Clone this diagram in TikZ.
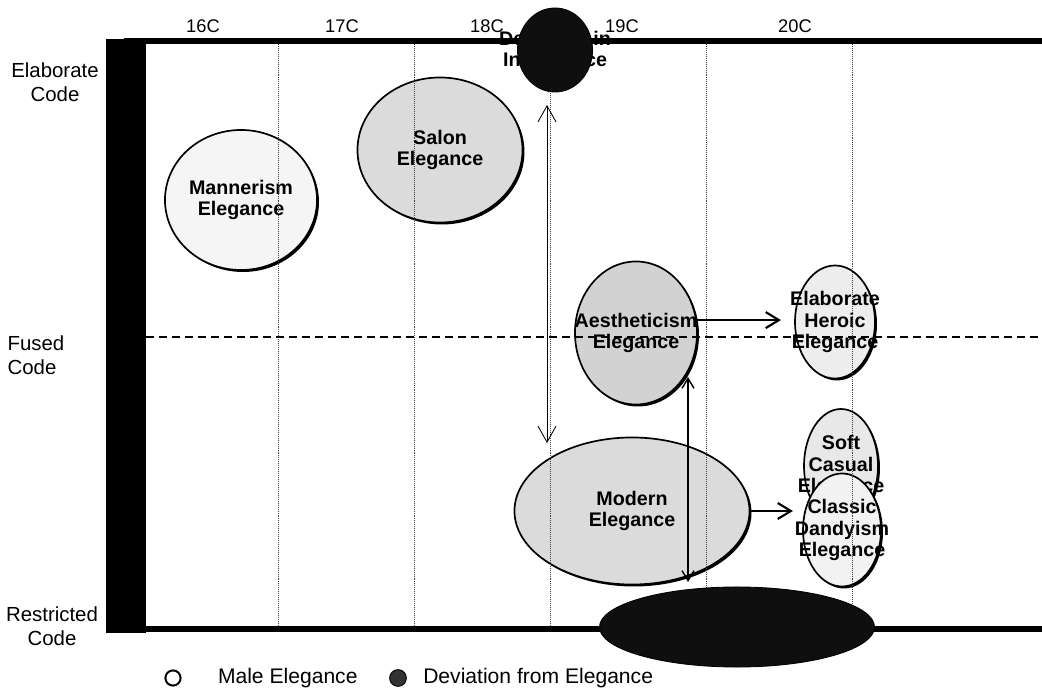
\documentclass[tikz,border=0pt]{standalone}
\usepackage{fontspec}
\setmainfont{Liberation Sans}
\usetikzlibrary{shapes.geometric, arrows.meta, shadows, positioning}

\begin{document}
\begin{tikzpicture}[
            x = 0.025cm, y = -0.025cm, % one unit is one pixel of the scan
            > = {Straight Barb[length=4mm, width=4.5mm]}, % arrow head style
            semithick, % line style
            elegance/.style = {ellipse, draw=black, line width=1.2pt, inner sep=0pt,
                drop shadow={shadow xshift=1.4pt, shadow yshift=-1.4pt, fill=black, opacity=1},
                label={[eltext]center:#1}},
            eltext/.style = {align=center, font=\bfseries\fontsize{14}{15.5}\selectfont},
            deviation/.style = {ellipse, draw=black, fill=black!94, inner sep=0pt},
            century/.style = {font=\fontsize{13}{15}\selectfont},
            codelabel/.style = {align=center, font=\fontsize{14.5}{17}\selectfont},
            legendtext/.style = {inner sep=0pt, font=\fontsize{15}{17}\selectfont},
            gridline/.style = {densely dotted, thin, black!75},
            bigarrow/.style = {->, line width=1.5pt, > = {Straight Barb[length=3.3mm, width=4mm]}}
        ]
\useasboundingbox (0,0) rectangle (1042,695);

% male elegance
\node[elegance={Mannerism\\Elegance}, fill=gray!8, minimum width=3.8cm, minimum height=3.5cm] (mann) at (241,200) {};
\node[elegance={Salon\\Elegance}, fill=gray!28, minimum width=4.125cm, minimum height=3.625cm] (salon) at (440,150) {};
\node[elegance={Aestheticism\\Elegance}, fill=gray!35, minimum width=3.05cm, minimum height=3.575cm] (aes) at (636,333) {};
\node[elegance={Elaborate\\Heroic\\Elegance}, fill=gray!14, minimum width=2cm, minimum height=2.825cm] (heroic) at (835,322) {};
\node[elegance={Modern\\Elegance}, fill=gray!28, minimum width=5.875cm, minimum height=3.675cm] (modern) at (632,511) {};
\node[elegance={Soft\\Casual\\Elegance}, fill=gray!18, minimum width=1.85cm, minimum height=2.85cm] (soft) at (841,466) {};
\node[elegance={Classic\\Dandyism\\Elegance}, fill=gray!10, minimum width=1.95cm, minimum height=2.825cm] (classic) at (842,530) {};

% centuries and code levels
\draw[gridline] (278,44) -- (278,627);
\draw[gridline] (414,44) -- (414,627);
\draw[gridline] (550,44) -- (550,627);
\draw[gridline] (706,44) -- (706,627);
\draw[gridline] (852,44) -- (852,627);
\draw[dash pattern=on 0.2cm off 0.125cm, line width=0.9pt] (146,337) -- (1042,337);

\fill (106,39) rectangle (146,633);
\draw[line width=4.2pt] (124,41) -- (1042,41);
\draw[line width=3.6pt] (146,629) -- (1042,629);

% deviation
\node[eltext] (toptext) at (555,51) {Deviation in\\Indulgence};
\node[deviation, minimum width=1.875cm, minimum height=2.1cm] (topdev) at (555,50) {};
\node[deviation, minimum width=6.875cm, minimum height=2cm] (basedev) at (737,627) {};

\coordinate (devtip) at (547,105);
\coordinate (modtip) at (547,443);
\coordinate (aestip) at (688,377);
\coordinate (basetip) at (688,582);

\path [<->] (devtip) edge[line width=0.6pt] (modtip);
\path [<->] (basetip) edge[line width=1pt, > = {Straight Barb[length=2.5mm, width=3mm]}] (aestip);
\draw[bigarrow, shorten > = 0.33cm] (aes.12) -- (aes.12 -| heroic.west);
\draw[bigarrow, shorten > = 0.23cm] (modern.east) -- (modern.east -| classic.west);

% axes
\node[century] (c16) at (203,26) {16C};
\node[century] (c17) at (342,26) {17C};
\node[century] (c18) at (487,26) {18C};
\node[century] (c19) at (622,26) {19C};
\node[century] (c20) at (795,26) {20C};

\node[codelabel] (elab) at (55,82) {Elaborate\\Code};
\node[codelabel, align=left] (fused) at (36,355) {Fused\\Code};
\node[codelabel] (restr) at (52,626) {Restricted\\Code};

% legend
\node[circle, draw, line width=1.4pt, minimum size=0.38cm, inner sep=0pt] (lmale) at (173,678) {};
\node[legendtext, right=0.9cm of lmale] (tmale) {Male Elegance};
\node[circle, draw=black, fill=black!80, minimum size=0.42cm, inner sep=0pt] (ldev) at (398,678) {};
\node[legendtext, right=0.4cm of ldev] (tdev) {Deviation from Elegance};

\end{tikzpicture}
\end{document}
